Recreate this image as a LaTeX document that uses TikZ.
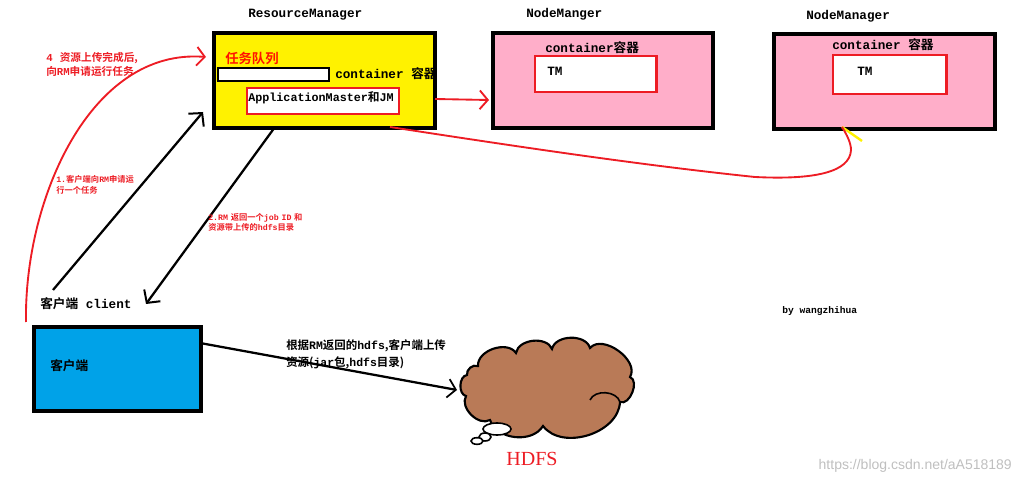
\documentclass[tikz,border=0pt]{standalone}
\usepackage{fontspec}
\setmainfont{Liberation Mono}[BoldFont=Liberation Mono Bold]
\newfontfamily\zhfont{Noto Sans CJK SC}[BoldFont=Noto Sans CJK SC Bold]
\newfontfamily\hdfsfont{Liberation Serif}
\newfontfamily\markfont{Liberation Sans}
\newcommand{\zh}[1]{{\zhfont #1}}
\usetikzlibrary{arrows.meta,positioning,calc,shapes.geometric}
\definecolor{pred}{HTML}{ED1C24}
\definecolor{pyellow}{HTML}{FFF200}
\definecolor{ppink}{HTML}{FFAEC9}
\definecolor{pblue}{HTML}{00A2E8}
\definecolor{pbrown}{HTML}{B97A57}
\tikzset{
  bigbox/.style={draw=black,line width=3pt,inner sep=0pt,anchor=north west},
  redbox/.style={draw=pred,line width=1.8pt,fill=white,inner sep=0pt,anchor=north west},
  lbl/.style={font=\bfseries\fontsize{9.5pt}{11pt}\selectfont,inner sep=0pt,anchor=west},
  redlbl/.style={font=\bfseries\fontsize{8pt}{10pt}\selectfont,text=pred,inner sep=0pt,anchor=west},
  tinylbl/.style={font=\bfseries\fontsize{6.2pt}{8pt}\selectfont,text=pred,inner sep=0pt,anchor=west},
  bubble/.style={draw=black,line width=1.2pt,fill=white,ellipse,inner sep=0pt},
  blackarrow/.style={draw=black,line width=1.7pt,-{Straight Barb[length=7pt,width=15pt,line width=1.5pt]}},
  redarrow/.style={draw=pred,line width=1.4pt},
  redtip/.style={draw=pred,line width=1.4pt,-{Straight Barb[length=6pt,width=14pt]}},
}
\begin{document}
\begin{tikzpicture}[x=0.75pt,y=-0.75pt]
\useasboundingbox (0,0) rectangle (1020,484);

% boxes
\node[bigbox,fill=pyellow,minimum width=166pt,minimum height=71pt] (rm) at (212,31) {};
\node[bigbox,fill=ppink,minimum width=165pt,minimum height=71pt] (nm1) at (491,31) {};
\node[bigbox,fill=ppink,minimum width=166pt,minimum height=71pt] (nm2) at (772,32) {};
\node[bigbox,fill=pblue,minimum width=125pt,minimum height=63pt] (client) at (32,325) {};

% inner boxes
\node[draw=black,line width=1.6pt,fill=white,inner sep=0pt,anchor=north west,minimum width=83pt,minimum height=10pt] (queue) at (217,67) {};
\node[redbox,minimum width=114pt,minimum height=19.5pt] (am) at (246,87) {};
\node[redbox,minimum width=91pt,minimum height=27pt] (tm1) at (534,55) {};
\node[redbox,minimum width=85pt,minimum height=29pt] (tm2) at (832,54) {};

% titles and inner texts
\node[lbl] (t1) at (248,15) {ResourceManager};
\node[lbl] (t2) at (526,14) {NodeManger};
\node[lbl] (t3) at (806,16) {NodeManager};
\node[inner sep=0pt,anchor=west,text=red!85!orange,font=\bfseries\fontsize{10pt}{12pt}\selectfont] (q) at (225,58) {\zh{任务队列}};
\node[lbl] (c0) at (335,74) {container \zh{容器}};
\node[lbl,font=\bfseries\fontsize{8.8pt}{11pt}\selectfont] (amt) at (248,98) {ApplicationMaster\zh{和}JM};
\node[lbl] (c1) at (545,48) {container\zh{容器}};
\node[lbl] (c2) at (832,45) {container \zh{容器}};
\node[lbl] (tmt1) at (547,71) {TM};
\node[lbl] (tmt2) at (857,71) {TM};

% cloud
\coordinate (k1) at (467,375);
\coordinate (k2) at (478,366);
\coordinate (k3) at (516,353);
\coordinate (k4) at (552,349);
\coordinate (k5) at (590,348);
\coordinate (k6) at (630,377);
\coordinate (k7) at (620,402);
\coordinate (k8) at (590,400);
\coordinate (k9) at (543,426);
\coordinate (k10) at (490,420);
\coordinate (k11) at (466,396);
\fill[pbrown,draw=black,line width=1.6pt]
  (k1) to[bend left=60] (k2) to[bend left=75] (k3) to[bend left=75] (k4)
  to[bend left=75] (k5) to[bend left=85] (k6) to[bend left=90] (k7)
  to[bend left=70] (k9) to[bend left=65] (k10) to[bend left=75] (k11)
  to[bend left=80] (k1) -- cycle;
\draw[black,line width=1.2pt] (k8) to[bend left=70] (k7);
\node[bubble,minimum width=21pt,minimum height=9pt] (b1) at (497,429) {};
\node[bubble,minimum width=9pt,minimum height=6pt] (b2) at (485,437) {};
\node[bubble,minimum width=9pt,minimum height=5pt] (b3) at (477,441) {};
\node[inner sep=0pt,text=pred,font=\hdfsfont\fontsize{15pt}{17pt}\selectfont] (hdfs) at (532,459) {HDFS};

% free ends
\coordinate (a1s) at (53,290);
\coordinate (a1e) at (203,112);
\coordinate (a2s) at (275,127);
\coordinate (a2e) at (146,304);
\coordinate (a3s) at (435,99);
\coordinate (a3e) at (489,100);
\coordinate (a4s) at (390,127);
\coordinate (a4e) at (842,127);
\coordinate (a5s) at (26,322);
\coordinate (a5e) at (206,57);
\coordinate (a6s) at (200,343);
\coordinate (a6e) at (457,390);
\coordinate (yl) at (862,141);

% connectors
\draw[blackarrow] (a1s) -- (a1e);
\draw[blackarrow] (a2s) -- (a2e);
\draw[redtip] (a3s) -- (a3e);
\draw[pyellow,line width=1.8pt] (a4e) -- (yl);
\draw[redarrow] (a4s) .. controls (520,147) and (640,165) .. (755,177)
  .. controls (815,180) and (850,172) .. (851,150)
  .. controls (851,143) and (847,135) .. (a4e);
\draw[redtip] (a5s) .. controls (24,200) and (90,48) .. (a5e);
\draw[blackarrow,-{Straight Barb[length=6pt,width=14pt,line width=1.3pt]}] (a6s) -- (a6e);

% texts
\node[redlbl,align=left,text width=130pt] (l4) at (46,64.5) {4\ \ \zh{资源上传完成后,}\\\zh{向}RM\zh{申请运行任务}};
\node[tinylbl,align=left,text width=90pt] (l1) at (56,184.5) {1.\zh{客户端向}RM\zh{申请运}\\\zh{行一个任务}};
\node[tinylbl,align=left,text width=130pt] (l2) at (208,222.5) {2.RM \zh{返回一个}job ID \zh{和}\\\zh{资源带上传的}hdfs\zh{目录}};
\node[lbl] (cl) at (40,304) {\zh{客户端} client};
\node[lbl] (cz) at (50,366) {\zh{客户端}};
\node[lbl,align=left,text width=170pt,font=\bfseries\fontsize{8.6pt}{13pt}\selectfont] (up) at (286,354) {\zh{根据}RM\zh{返回的}hdfs\zh{,客户端上传}\\\zh{资源(}jar\zh{包,}hdfs\zh{目录)}};
\node[lbl,font=\bfseries\fontsize{7.2pt}{9pt}\selectfont] (by) at (782,311) {by wangzhihua};
\node[inner sep=0pt,anchor=east,text=black!25,font=\markfont\fontsize{10.5pt}{12pt}\selectfont] (wm) at (1012,466) {https://blog.csdn.net/aA518189};
\end{tikzpicture}
\end{document}
